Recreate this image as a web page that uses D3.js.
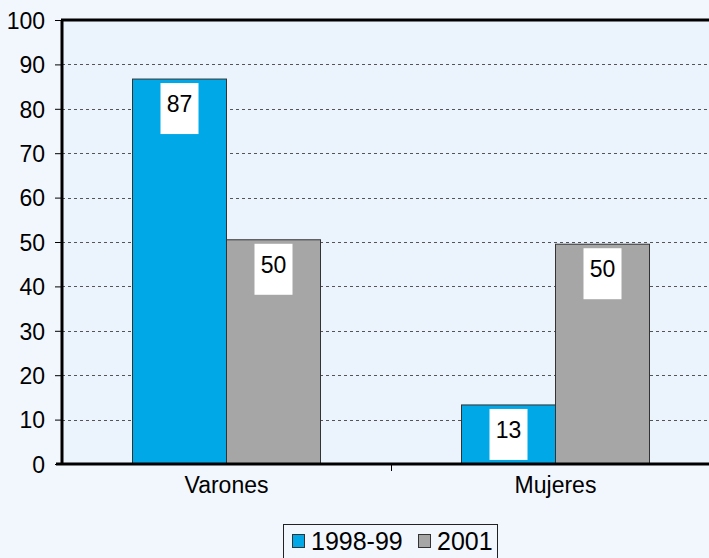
<html>
<head>
<meta charset="utf-8">
<script src="https://cdn.jsdelivr.net/npm/d3@7"></script>
<style>
body { margin: 0; background: #f2f7fe; }
svg { display: block; }
text { font-family: "Liberation Sans", Arial, sans-serif; fill: #000; }
</style>
</head>
<body>
<svg id="chart"></svg>
<script>
var categories = ["Varones", "Mujeres"];
var series = ["1998-99", "2001"];
var values1998 = [86.7, 13.3];
var values2001 = [50.5, 49.5];
var labels1998 = ["87", "13"];
var labels2001 = ["50", "50"];
var yTicks = [0, 10, 20, 30, 40, 50, 60, 70, 80, 90, 100];
var colors = ["#00a8e8", "#a6a6a6"];

var width = 709, height = 558;
var pLeft = 62, pTop = 20, pRight = 720, pBottom = 464;

var svg = d3.select("#chart").attr("width", width).attr("height", height);

var y = d3.scaleLinear().domain([0, 100]).range([pBottom, pTop]);
var x0 = d3.scaleBand().domain(categories).range([pLeft, pRight]);
var x1 = d3.scaleBand().domain(series).range([0, x0.bandwidth()]).paddingOuter(0.75);

// plot area
svg.append("rect")
  .attr("x", pLeft).attr("y", pTop)
  .attr("width", pRight - pLeft).attr("height", pBottom - pTop)
  .attr("fill", "#ebf3fc");

// gridlines
svg.append("g").selectAll("line")
  .data(yTicks.filter(function(d) { return d > 0 && d < 100; }))
  .enter().append("line")
  .attr("x1", pLeft).attr("x2", pRight)
  .attr("y1", function(d) { return Math.round(y(d)) + 0.5; })
  .attr("y2", function(d) { return Math.round(y(d)) + 0.5; })
  .attr("stroke", "#555")
  .attr("stroke-dasharray", "3,3");

var flat = [];
categories.forEach(function(c, i) {
  flat.push({ cat: c, s: series[0], v: values1998[i], lab: labels1998[i], col: colors[0] });
  flat.push({ cat: c, s: series[1], v: values2001[i], lab: labels2001[i], col: colors[1] });
});

var bars = svg.append("g").selectAll("g")
  .data(flat).enter().append("g");

bars.append("rect")
  .attr("x", function(d) { return x0(d.cat) + x1(d.s); })
  .attr("y", function(d) { return y(d.v); })
  .attr("width", x1.bandwidth())
  .attr("height", function(d) { return y(0) - y(d.v); })
  .attr("fill", function(d) { return d.col; })
  .attr("stroke", "#333")
  .attr("stroke-width", 1);

bars.append("rect")
  .attr("x", function(d) { return x0(d.cat) + x1(d.s) + x1.bandwidth() / 2 - 19; })
  .attr("y", function(d) { return y(d.v) + 4; })
  .attr("width", 38).attr("height", 51)
  .attr("fill", "#fff");

bars.append("text")
  .attr("x", function(d) { return x0(d.cat) + x1(d.s) + x1.bandwidth() / 2; })
  .attr("y", function(d) { return y(d.v) + 33; })
  .attr("text-anchor", "middle")
  .style("font-size", "23px")
  .text(function(d) { return d.lab; });

// frame
svg.append("line").attr("x1", pLeft - 1).attr("x2", pRight).attr("y1", pTop).attr("y2", pTop)
  .attr("stroke", "#000").attr("stroke-width", 3);
svg.append("line").attr("x1", pLeft).attr("x2", pLeft).attr("y1", pTop).attr("y2", pBottom + 1)
  .attr("stroke", "#000").attr("stroke-width", 3);

// y axis
var yAxis = svg.append("g")
  .attr("transform", "translate(" + (pLeft - 1) + ",0)")
  .call(d3.axisLeft(y).tickValues(yTicks).tickSize(6).tickPadding(10));
yAxis.select(".domain").remove();
yAxis.selectAll("line").attr("stroke", "#000");
yAxis.selectAll("text").style("font-size", "23px").attr("font-family", null).attr("dy", "0.36em");

// x axis
var xAxis = svg.append("g")
  .attr("transform", "translate(0," + pBottom + ")")
  .call(d3.axisBottom(x0).tickSize(0).tickPadding(13));
xAxis.select(".domain").remove();
xAxis.selectAll("text").style("font-size", "23px").attr("font-family", null);
svg.append("g").selectAll("line")
  .data(categories.slice(1))
  .enter().append("line")
  .attr("x1", function(d) { return x0(d) + 0.5; })
  .attr("x2", function(d) { return x0(d) + 0.5; })
  .attr("y1", pBottom).attr("y2", pBottom + 7)
  .attr("stroke", "#000");
svg.append("line").attr("x1", pLeft - 6).attr("x2", pRight).attr("y1", pBottom).attr("y2", pBottom)
  .attr("stroke", "#000").attr("stroke-width", 3);

// legend
var legend = svg.append("g").attr("transform", "translate(283,524)");
legend.append("rect")
  .attr("x", 0.5).attr("y", 0.5).attr("width", 214).attr("height", 40)
  .attr("fill", "#f2f7fe").attr("stroke", "#222");
var lx = [9, 135];
series.forEach(function(s, i) {
  legend.append("rect")
    .attr("x", lx[i] + 0.5).attr("y", 10.5).attr("width", 12).attr("height", 13)
    .attr("fill", colors[i]).attr("stroke", "#333");
  legend.append("text")
    .attr("x", lx[i] + 19).attr("y", 26)
    .style("font-size", "25px")
    .text(s);
});
</script>
</body>
</html>
